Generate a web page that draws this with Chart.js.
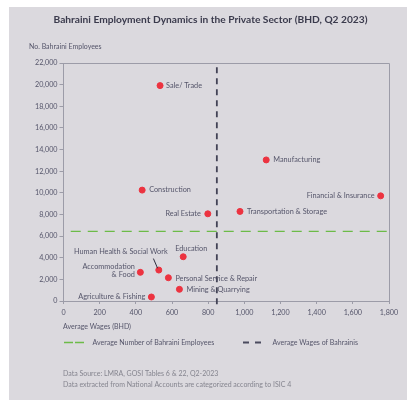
<!DOCTYPE html>
<html><head><meta charset="utf-8">
<script src="https://cdn.jsdelivr.net/npm/chart.js@4/dist/chart.umd.min.js"></script>
<style>html,body{margin:0;padding:0;background:#fff;}canvas{display:block}</style>
</head><body>
<canvas id="c" width="407" height="400"></canvas>
<script>
// ---- data ----
const sectors = ["Sale/ Trade","Manufacturing","Financial & Insurance","Construction","Real Estate",
  "Transportation & Storage","Education","Human Health & Social Work","Accommodation\n& Food",
  "Personal Service & Repair","Mining & Quarrying","Agriculture & Fishing"];
const wages = [534, 1121, 1754, 435, 798, 976, 662, 527, 425, 580, 641, 486];
const employees = [19910, 13040, 9720, 10250, 8060, 8280, 4090, 2860, 2650, 2150, 1080, 370];
const avgEmployees = 6430;
const avgWage = 848;
const xTickValues = [0,200,400,600,800,1000,1200,1400,1600,1800];
const yTickValues = [0,2000,4000,6000,8000,10000,12000,14000,16000,18000,20000,22000];

// label placement (offsets in px from each point)
const labelPlacement = [
  {dx:6, dy:0, align:'left'},
  {dx:7, dy:0, align:'left'},
  {dx:-6, dy:0, align:'right'},
  {dx:7, dy:0, align:'left'},
  {dx:-7, dy:0, align:'right'},
  {dx:7, dy:0, align:'left'},
  {dx:8, dy:-8.5, align:'center'},
  {dx:-38, dy:-18.5, align:'center', leader:[-5.4,-11.5,-1.2,-1.8]},
  {dx:-5.5, dy:-6, align:'right', lineH:8.7},
  {dx:7, dy:0.6, align:'left'},
  {dx:7, dy:0.4, align:'left'},
  {dx:-6, dy:0, align:'right'}
];

const FONT = 'Lato, "Open Sans", sans-serif';
const txt = '#55556a';
const axisCol = '#9c9ca8';

const deco = {
  id:'deco',
  beforeDraw(chart){
    const ctx = chart.ctx;
    ctx.save();
    ctx.fillStyle = '#dbd9de';
    ctx.fillRect(9,7,398,393);
    ctx.restore();
  },
  afterDraw(chart){
    const ctx = chart.ctx, a = chart.chartArea;
    ctx.save();
    // plot frame
    ctx.strokeStyle = axisCol; ctx.lineWidth = 1;
    ctx.beginPath();
    ctx.moveTo(a.left, a.top+0.5); ctx.lineTo(a.right+0.5, a.top+0.5); ctx.lineTo(a.right+0.5, a.bottom);
    ctx.stroke();
    // title
    ctx.fillStyle = '#3a3a4c';
    ctx.font = 'bold 10.2px ' + FONT;
    ctx.textAlign = 'center'; ctx.textBaseline = 'middle';
    ctx.fillText('Bahraini Employment Dynamics in the Private Sector (BHD, Q2 2023)', 210.5, 19.5);
    // axis titles
    ctx.fillStyle = txt;
    ctx.font = '7px ' + FONT;
    ctx.textAlign = 'left';
    ctx.fillText('No. Bahraini Employees', 29, 46.5);
    ctx.fillText('Average Wages (BHD)', 63, 326.5);
    // legend
    ctx.lineWidth = 1.5;
    ctx.strokeStyle = '#6cbb48';
    ctx.setLineDash([9,2]);
    ctx.beginPath(); ctx.moveTo(64,342.5); ctx.lineTo(84,342.5); ctx.stroke();
    ctx.strokeStyle = '#4b4b5e'; ctx.lineWidth = 2;
    ctx.setLineDash([6,6]);
    ctx.beginPath(); ctx.moveTo(243,342.5); ctx.lineTo(263,342.5); ctx.stroke();
    ctx.setLineDash([]);
    ctx.fillStyle = txt;
    ctx.fillText('Average Number of Bahraini Employees', 92.5, 342.5);
    ctx.fillText('Average Wages of Bahrainis', 272.5, 342.5);
    // footnotes
    ctx.fillStyle = '#85858f';
    ctx.fillText('Data Source: LMRA, GOSI Tables 6 & 22, Q2-2023', 63, 373.5);
    ctx.fillText('Data extracted from National Accounts are categorized according to ISIC 4', 63, 384.5);
    ctx.restore();
  },
  afterDatasetsDraw(chart){
    const ctx = chart.ctx, xs = chart.scales.x, ys = chart.scales.y;
    ctx.save();
    ctx.font = '7.3px ' + FONT;
    ctx.fillStyle = txt;
    ctx.textBaseline = 'middle';
    sectors.forEach((name,i)=>{
      const p = labelPlacement[i];
      const px = xs.getPixelForValue(wages[i]), py = ys.getPixelForValue(employees[i]);
      ctx.textAlign = p.align;
      const lines = name.split('\n');
      lines.forEach((ln,k)=>ctx.fillText(ln, px+p.dx, py+p.dy+k*(p.lineH||0)));
      if(p.leader){
        ctx.strokeStyle = '#2e2e3e'; ctx.lineWidth = 1;
        ctx.beginPath();
        ctx.moveTo(px+p.leader[0], py+p.leader[1]);
        ctx.lineTo(px+p.leader[2], py+p.leader[3]);
        ctx.stroke();
      }
    });
    ctx.restore();
  }
};

const fmt = v => Number(v).toLocaleString('en-US');

new Chart(document.getElementById('c'), {
  type:'scatter',
  data:{
    datasets:[
      {
        label:'Sectors',
        data: wages.map((w,i)=>({x:w, y:employees[i]})),
        backgroundColor:'#ec3340', borderColor:'#ec3340',
        pointRadius:3, pointHoverRadius:3, order:1
      },
      {
        type:'line', label:'Average Number of Bahraini Employees',
        data:[{x:40,y:avgEmployees},{x:1800,y:avgEmployees}],
        borderColor:'#6cbb48', borderWidth:1.3, borderDash:[10,7],
        pointRadius:0, fill:false, order:3
      },
      {
        type:'line', label:'Average Wages of Bahrainis',
        data:[{x:avgWage,y:-300},{x:avgWage,y:22000}],
        borderColor:'#434356', borderWidth:1.8, borderDash:[6,5],
        pointRadius:0, fill:false, order:2, clip:false
      }
    ]
  },
  options:{
    responsive:false, animation:false, devicePixelRatio:1,
    layout:{padding:{left:0, top:63, right:18, bottom:79}},
    plugins:{legend:{display:false}, tooltip:{enabled:false}, title:{display:false}},
    scales:{
      x:{
        type:'linear', min:0, max:1800,
        afterBuildTicks: s => { s.ticks = xTickValues.map(v=>({value:v})); },
        ticks:{color:txt, font:{family:FONT, size:7.2}, padding:4, maxRotation:0, callback:fmt},
        grid:{drawOnChartArea:false, tickLength:3, color:axisCol},
        border:{color:axisCol, width:1},
        afterFit: s => { s.height = 20; }
      },
      y:{
        min:0, max:22000,
        afterBuildTicks: s => { s.ticks = yTickValues.map(v=>({value:v})); },
        ticks:{color:txt, font:{family:FONT, size:7.2}, padding:2, callback:fmt},
        grid:{drawOnChartArea:false, tickLength:4, color:axisCol},
        border:{color:axisCol, width:1},
        afterFit: s => { s.width = 63.5; }
      }
    }
  },
  plugins:[deco]
});
</script>
</body></html>
